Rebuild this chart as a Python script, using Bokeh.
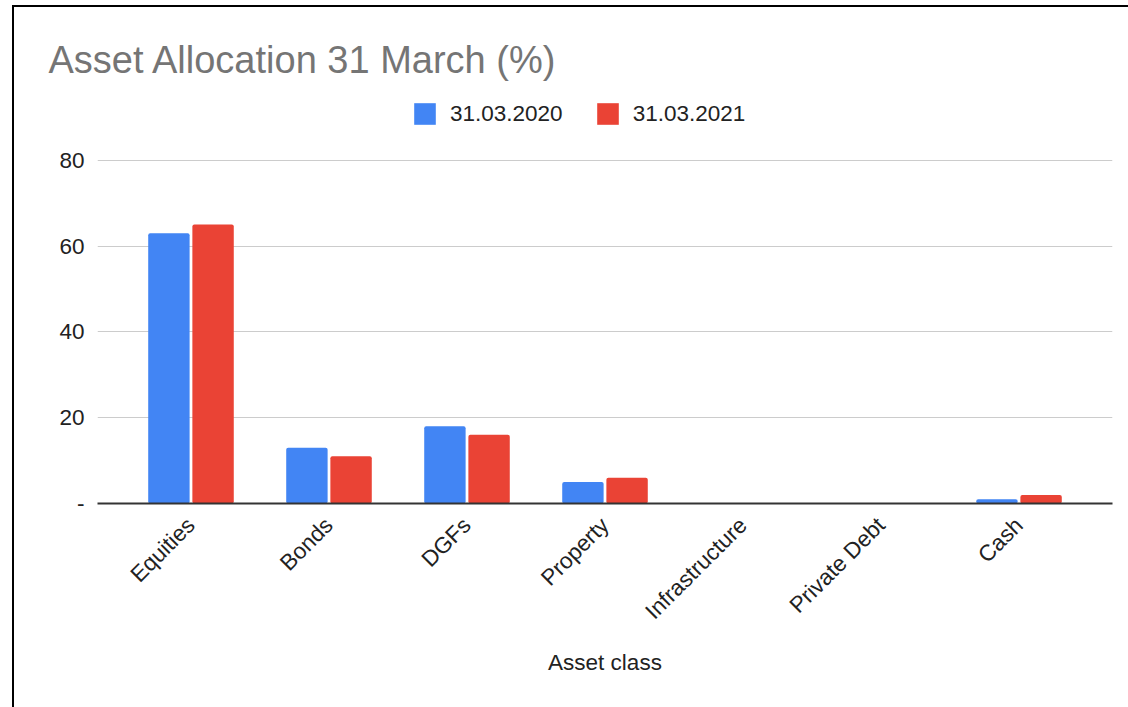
import math
from bokeh.plotting import figure
from bokeh.layouts import column
from bokeh.models import (ColumnDataSource, FactorRange, FixedTicker, Legend, LegendItem, Label)
from bokeh.transform import dodge
from bokeh.embed import file_html
from bokeh.resources import INLINE

categories = ["Equities", "Bonds", "DGFs", "Property", "Infrastructure", "Private Debt", "Cash"]
series_names = ["31.03.2020", "31.03.2021"]
values_2020 = [63, 13, 18, 5, 0, 0, 1]
values_2021 = [65, 11, 16, 6, 0, 0, 2]
y_ticks = [0, 20, 40, 60, 80]
y_tick_labels = {0: "-", 20: "20", 40: "40", 60: "60", 80: "80"}
title_text = "Asset Allocation 31 March (%)"
x_label = "Asset class"

BLUE = "#4285F4"
RED = "#EA4335"
FONT = "Liberation Sans"
TXT = "22.5px"

source = ColumnDataSource(dict(cat=categories, v2020=values_2020, v2021=values_2021))

# ---- header figure (title + legend) ----
TOP_H = 131
top = figure(width=1114, height=TOP_H, x_range=(0, 1114), y_range=(0, TOP_H),
             output_backend="svg", toolbar_location=None,
             min_border=0, min_border_left=0, min_border_right=0,
             min_border_top=0, min_border_bottom=0)
top.frame_align = False
top.axis.visible = False
top.grid.visible = False
top.outline_line_color = None
top.border_fill_color = "white"

# zero-height proxy bars, only used to draw the legend swatches
proxy = ColumnDataSource(dict(x=[0], top=[0]))
d1 = top.vbar(x="x", top="top", width=1, source=proxy, fill_color=BLUE, line_color=None, border_radius=2)
d2 = top.vbar(x="x", top="top", width=1, source=proxy, fill_color=RED, line_color=None, border_radius=2)

title = Label(x=34, y=79, x_units="screen", y_units="screen", text=title_text,
              text_font=FONT, text_font_size="38px", text_color="#757575",
              text_baseline="alphabetic", text_align="left")
top.add_layout(title)

legend = Legend(items=[LegendItem(label=series_names[0], renderers=[d1]),
                       LegendItem(label=series_names[1], renderers=[d2])],
                orientation="horizontal", location=(397, 11))
legend.padding = 0
legend.margin = 0
legend.spacing = 31
legend.glyph_width = 27
legend.glyph_height = 27
legend.label_standoff = 12
legend.label_text_font = FONT
legend.label_text_font_size = TXT
legend.label_text_color = "#222222"
legend.border_line_color = None
legend.background_fill_alpha = 0
top.add_layout(legend, "center")

# ---- main chart ----
p = figure(
    x_range=FactorRange(factors=categories, range_padding=0.0507, range_padding_units="percent"),
    y_range=(0, 80.4),
    width=1114, height=700 - TOP_H,
    output_backend="svg", toolbar_location=None,
    min_border_left=83, min_border_right=16, min_border_top=20, min_border_bottom=204,
)
p.frame_align = False
p.outline_line_color = None
p.background_fill_color = "white"
p.border_fill_color = "white"

r1 = p.vbar(x=dodge("cat", -0.16, range=p.x_range), top="v2020", width=0.3, source=source,
            fill_color=BLUE, line_color=None, border_radius=2)
r2 = p.vbar(x=dodge("cat", 0.16, range=p.x_range), top="v2021", width=0.3, source=source,
            fill_color=RED, line_color=None, border_radius=2)

p.xaxis.axis_line_color = "#333333"
p.xaxis.axis_line_width = 2
p.xaxis.major_tick_line_color = None
p.xaxis.minor_tick_line_color = None
p.xaxis.major_label_orientation = math.pi / 4
p.xaxis.major_label_text_font = FONT
p.xaxis.major_label_text_font_size = TXT
p.xaxis.major_label_text_color = "#222222"
p.xaxis.major_label_standoff = 12
p.xaxis.axis_label = x_label
p.xaxis.axis_label_text_font = FONT
p.xaxis.axis_label_text_font_size = TXT
p.xaxis.axis_label_text_font_style = "normal"
p.xaxis.axis_label_text_color = "#222222"
p.xaxis.axis_label_standoff = 14

p.yaxis.ticker = FixedTicker(ticks=y_ticks)
p.yaxis.major_label_overrides = y_tick_labels
p.yaxis.axis_line_color = None
p.yaxis.major_tick_line_color = None
p.yaxis.minor_tick_line_color = None
p.yaxis.major_label_text_font = FONT
p.yaxis.major_label_text_font_size = TXT
p.yaxis.major_label_text_color = "#222222"
p.yaxis.major_label_standoff = 7

p.xgrid.grid_line_color = None
p.ygrid.grid_line_color = "#cccccc"
p.ygrid.grid_line_width = 1
p.ygrid.ticker = FixedTicker(ticks=y_ticks)

layout = column(top, p, spacing=0)
layout.margin = (5, 0, 0, 12)
layout.styles = {"border-left": "2px solid #000", "border-top": "2px solid #000"}

open("out.html", "w").write(file_html(layout, INLINE))
